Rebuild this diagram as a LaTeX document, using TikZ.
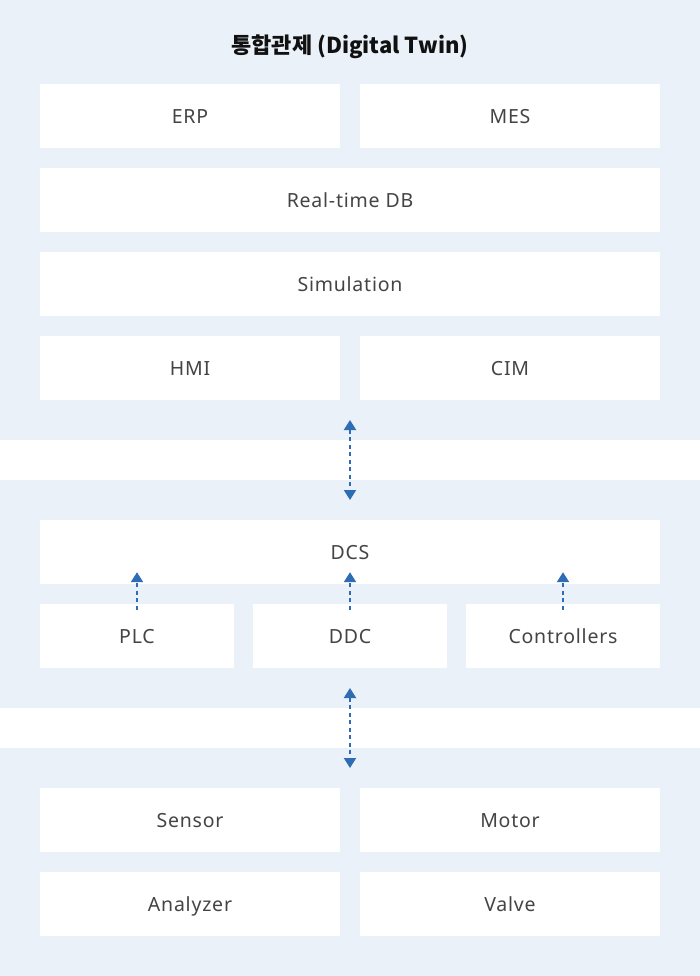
\documentclass[tikz,border=0pt]{standalone}
\usepackage{fontspec}
\setmainfont{Noto Sans}
\newfontfamily\boxfont[LetterSpace=4]{Noto Sans}
\newfontfamily\krfont{Noto Sans CJK KR}
\usetikzlibrary{arrows.meta}
\definecolor{panelbg}{HTML}{EAF1F8}
\definecolor{txtgray}{HTML}{444444}
\definecolor{arrowblue}{HTML}{2E6DB4}
\definecolor{titlec}{HTML}{111111}
\begin{document}
\begin{tikzpicture}[x=1pt,y=-1pt,
  box/.style={fill=white,draw=none,inner sep=0pt,text height=15pt,text depth=0pt,
    font=\boxfont\fontsize{19.5}{22}\selectfont,text=txtgray},
  link/.style={draw=arrowblue,line width=2pt,dash pattern=on 4pt off 3.5pt,
    -{Triangle[width=12pt,length=10pt]}},
  dlink/.style={link,{Triangle[width=12pt,length=10pt]}-{Triangle[width=12pt,length=10pt]}}]
\useasboundingbox (0,0) rectangle (700,976);
\fill[white] (0,0) rectangle (700,976);
\fill[panelbg] (0,0) rectangle (700,440);
\fill[panelbg] (0,480) rectangle (700,708);
\fill[panelbg] (0,748) rectangle (700,976);
\node[font=\krfont\bfseries\fontsize{22}{26}\selectfont,text=titlec] (title) at (350,47) {통합관제 (Digital Twin)};
\newcommand{\bx}[6]{\node[box,minimum width=#4pt,minimum height=#5pt] (#1) at (#2,#3) {#6};}
\bx{erp}{190}{116}{300}{64}{ERP}
\bx{mes}{510}{116}{300}{64}{MES}
\bx{rtdb}{350}{200}{620}{64}{Real-time DB}
\bx{sim}{350}{284}{620}{64}{Simulation}
\bx{hmi}{190}{368}{300}{64}{HMI}
\bx{cim}{510}{368}{300}{64}{CIM}
\bx{dcs}{350}{552}{620}{64}{DCS}
\bx{plc}{137}{636}{194}{64}{PLC}
\bx{ddc}{350}{636}{194}{64}{DDC}
\bx{ctrl}{563}{636}{194}{64}{Controllers}
\bx{sensor}{190}{820}{300}{64}{Sensor}
\bx{motor}{510}{820}{300}{64}{Motor}
\bx{analyzer}{190}{904}{300}{64}{Analyzer}
\bx{valve}{510}{904}{300}{64}{Valve}
\coordinate (u1) at (350,420);
\coordinate (d1) at (350,500);
\coordinate (u2) at (350,688);
\coordinate (d2) at (350,768);
\draw[dlink] (u1) -- (d1);
\draw[dlink] (u2) -- (d2);
\path (plc.north |- dcs.south) coordinate (tplc);
\path (ddc.north |- dcs.south) coordinate (tddc);
\path (ctrl.north |- dcs.south) coordinate (tctrl);
\draw[link] ([yshift=-6pt]plc.north) -- ([yshift=12pt]tplc);
\draw[link] ([yshift=-6pt]ddc.north) -- ([yshift=12pt]tddc);
\draw[link] ([yshift=-6pt]ctrl.north) -- ([yshift=12pt]tctrl);
\end{tikzpicture}
\end{document}
